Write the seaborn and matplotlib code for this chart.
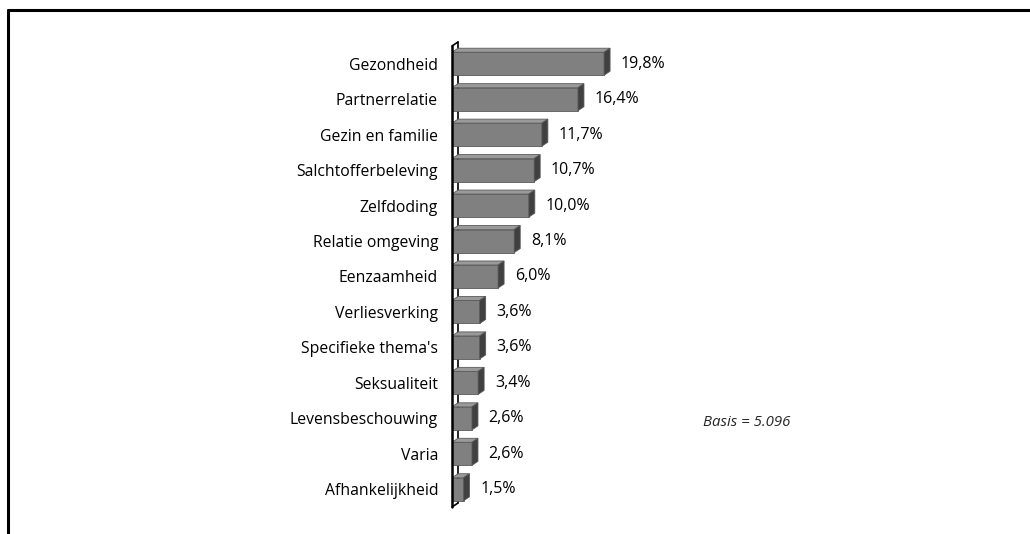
import matplotlib
import numpy as np
import pandas as pd
import seaborn as sns
from matplotlib import pyplot as plt
from matplotlib.lines import Line2D
from matplotlib.patches import Polygon

matplotlib.use("Agg")

categories = [
    "Gezondheid",
    "Partnerrelatie",
    "Gezin en familie",
    "Salchtofferbeleving",
    "Zelfdoding",
    "Relatie omgeving",
    "Eenzaamheid",
    "Verliesverking",
    "Specifieke thema's",
    "Seksualiteit",
    "Levensbeschouwing",
    "Varia",
    "Afhankelijkheid",
]
values = [19.8, 16.4, 11.7, 10.7, 10.0, 8.1, 6.0, 3.6, 3.6, 3.4, 2.6, 2.6, 1.5]
value_labels = ["19,8%", "16,4%", "11,7%", "10,7%", "10,0%", "8,1%", "6,0%",
                "3,6%", "3,6%", "3,4%", "2,6%", "2,6%", "1,5%"]
basis_text = "Basis = 5.096"

df = pd.DataFrame({"thema": categories, "pct": values})

sns.set_style("white")
plt.rcParams["font.family"] = ["Open Sans", "DejaVu Sans"]

W, H, DPI = 1030, 534, 100
fig = plt.figure(figsize=(W / DPI, H / DPI), dpi=DPI)
ax = fig.add_axes([452 / W, 1 - 507 / H, 192 / W, (507 - 46) / H])

front = "#808080"
side = "#404040"
top = "#9a9a9a"

sns.barplot(data=df, x="pct", y="thema", orient="h", color=front,
            saturation=1, width=0.65, ax=ax, edgecolor="#5a5a5a",
            linewidth=0.6, zorder=3)
ax.set_xlim(0, 25)
ax.set_ylim(len(categories) - 0.5, -0.5)

# depth of the fake 3d effect, in data units
px_x = ax.get_position().width * W / 25.0
px_y = ax.get_position().height * H / len(categories)
dx = 6 / px_x
dy = 4 / px_y

for p, lab in zip(ax.patches, value_labels):
    x0 = p.get_x()
    w = p.get_width()
    yt = p.get_y()
    yb = yt + p.get_height()
    ax.add_patch(Polygon([(x0, yt), (x0 + w, yt), (x0 + w + dx, yt - dy), (x0 + dx, yt - dy)],
                         closed=True, fc=top, ec="#5a5a5a", lw=0.6, zorder=3))
    ax.add_patch(Polygon([(x0 + w, yt), (x0 + w + dx, yt - dy), (x0 + w + dx, yb - dy), (x0 + w, yb)],
                         closed=True, fc=side, ec="#5a5a5a", lw=0.6, zorder=3))
    ax.text(x0 + w + dx + 1.4, (yt + yb) / 2, lab, va="center", ha="left",
            fontsize=11.5, color="#000000")

# wall / axis
y0, y1 = len(categories) - 0.5, -0.5
ax.plot([dx, dx], [y0 - dy, y1 - dy], color="#000000", lw=1.2, zorder=1, clip_on=False)
ax.plot([0, 0], [y0, y1], color="#000000", lw=1.8, zorder=4, clip_on=False)
ax.plot([0, dx], [y1, y1 - dy], color="#000000", lw=1.2, zorder=4, clip_on=False)
ax.plot([0, dx], [y0, y0 - dy], color="#000000", lw=1.2, zorder=4, clip_on=False)

for s in ax.spines.values():
    s.set_visible(False)
ax.set_xticks([])
ax.set_xlabel("")
ax.set_ylabel("")
ax.tick_params(axis="y", length=0, pad=10, labelsize=11.3, labelcolor="#000000")

fig.text(703 / W, 1 - 423 / H, basis_text, fontsize=10.8, style="italic",
         va="center", ha="left")

# frame (top and left border)
fig.add_artist(Line2D([8 / W, 1], [1 - 10 / H, 1 - 10 / H], color="black", lw=2.2))
fig.add_artist(Line2D([8 / W, 8 / W], [1 - 10 / H, 0], color="black", lw=2.2))

fig.savefig("out.png", dpi=DPI)
